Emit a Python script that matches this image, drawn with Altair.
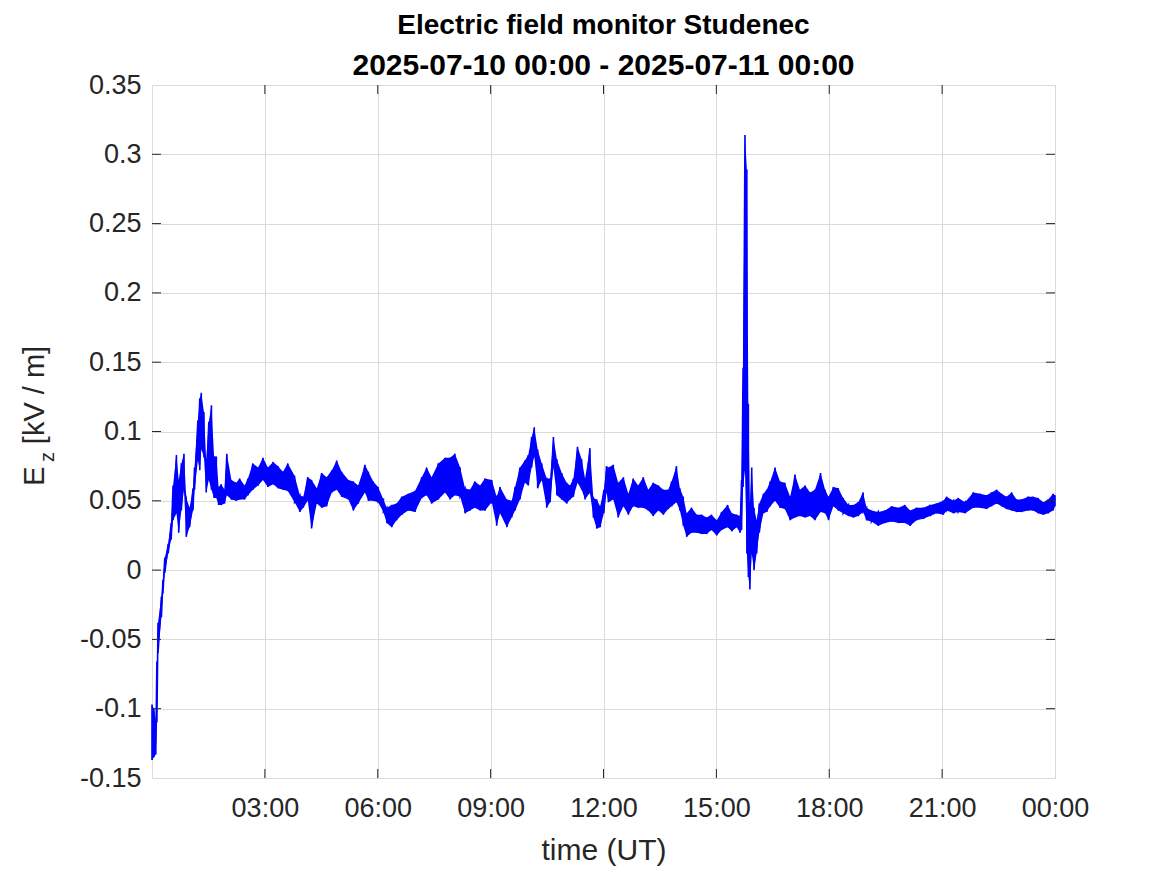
import altair as alt
import pandas as pd

# time in hours since 2025-07-10 00:00 UT, upper / lower envelope of Ez [kV/m]
hours = [0.00, 0.05, 0.10, 0.13, 0.16, 0.25, 0.29, 0.34, 0.43, 0.51, 0.56, 0.65, 0.71, 0.78, 0.85, 0.91,
         1.00, 1.09, 1.13, 1.22, 1.27, 1.31, 1.38, 1.44, 1.51, 1.58, 1.65, 1.71, 1.77, 1.84, 1.93, 1.99,
         2.11, 2.24, 2.33, 2.46, 2.55, 2.68, 2.82, 2.95, 3.08, 3.22, 3.35, 3.48, 3.61, 3.79, 3.93,
         4.02, 4.14, 4.24, 4.38, 4.51, 4.64, 4.78, 4.91, 5.04, 5.22, 5.35, 5.48, 5.66, 5.75, 5.88,
         6.01, 6.15, 6.24, 6.37, 6.50, 6.64, 6.81, 6.99, 7.17, 7.30, 7.43, 7.61, 7.79, 7.92,
         8.05, 8.19, 8.32, 8.45, 8.58, 8.72, 8.85, 9.03, 9.16, 9.25, 9.43, 9.56, 9.65, 9.78, 9.91,
         10.00, 10.09, 10.16, 10.25, 10.36, 10.49, 10.58, 10.67, 10.76, 10.89, 11.02, 11.11, 11.20,
         11.31, 11.42, 11.51, 11.64, 11.73, 11.82, 11.91, 12.01, 12.08, 12.13, 12.26, 12.39, 12.53,
         12.66, 12.79, 12.92, 13.06, 13.19, 13.32, 13.46, 13.59, 13.72, 13.81, 13.94, 14.03, 14.12,
         14.21, 14.34, 14.48, 14.61, 14.74, 14.87, 15.01, 15.14, 15.30, 15.41, 15.54, 15.63, 15.67,
         15.71, 15.76, 15.81, 15.85, 15.89, 15.94, 16.00, 16.07, 16.14, 16.25, 16.34, 16.43, 16.56,
         16.69, 16.82, 16.96, 17.09, 17.22, 17.36, 17.49, 17.62, 17.77, 17.89, 17.98, 18.11, 18.24,
         18.37, 18.51, 18.64, 18.77, 18.90, 18.99, 19.12, 19.30, 19.48, 19.66, 19.84, 20.01, 20.15,
         20.32, 20.50, 20.68, 20.85, 21.03, 21.12, 21.30, 21.43, 21.61, 21.83, 22.01, 22.18, 22.31,
         22.45, 22.58, 22.71, 22.85, 22.98, 23.11, 23.29, 23.42, 23.55, 23.69, 23.82, 23.95, 24.00]

ez_high = [-0.097, -0.100, -0.108, -0.066, -0.038, -0.019, -0.007, 0.009, 0.019, 0.034, 0.061, 0.083, 0.065, 0.077, 0.084, 0.052,
           0.045, 0.059, 0.074, 0.108, 0.124, 0.128, 0.114, 0.079, 0.107, 0.119, 0.082, 0.082, 0.060, 0.062, 0.058, 0.084,
           0.065, 0.063, 0.066, 0.061, 0.066, 0.077, 0.074, 0.081, 0.074, 0.078, 0.075, 0.071, 0.077, 0.068, 0.054,
           0.053, 0.067, 0.065, 0.059, 0.070, 0.067, 0.072, 0.079, 0.071, 0.065, 0.064, 0.061, 0.076, 0.071, 0.064,
           0.060, 0.051, 0.045, 0.047, 0.048, 0.053, 0.055, 0.057, 0.067, 0.074, 0.067, 0.077, 0.081, 0.081,
           0.084, 0.074, 0.059, 0.058, 0.064, 0.061, 0.066, 0.065, 0.053, 0.060, 0.051, 0.050, 0.060, 0.074, 0.079,
           0.083, 0.096, 0.103, 0.087, 0.077, 0.066, 0.066, 0.096, 0.080, 0.070, 0.063, 0.061, 0.066,
           0.089, 0.080, 0.066, 0.088, 0.052, 0.051, 0.046, 0.058, 0.075, 0.074, 0.076, 0.063, 0.067,
           0.055, 0.066, 0.061, 0.067, 0.058, 0.063, 0.061, 0.058, 0.058, 0.064, 0.075, 0.059, 0.053,
           0.041, 0.045, 0.040, 0.040, 0.038, 0.040, 0.036, 0.042, 0.047, 0.041, 0.040, 0.039, 0.065,
           0.146, 0.314, 0.289, 0.120, 0.048, 0.074, 0.045, 0.036, 0.048, 0.055, 0.058, 0.064, 0.074,
           0.064, 0.063, 0.053, 0.069, 0.058, 0.061, 0.056, 0.058, 0.070, 0.058, 0.053, 0.060, 0.059,
           0.052, 0.047, 0.047, 0.049, 0.056, 0.045, 0.043, 0.042, 0.043, 0.046, 0.045, 0.047, 0.043,
           0.045, 0.045, 0.047, 0.048, 0.050, 0.053, 0.050, 0.052, 0.049, 0.056, 0.055, 0.054, 0.056,
           0.058, 0.055, 0.053, 0.056, 0.051, 0.051, 0.053, 0.053, 0.052, 0.049, 0.051, 0.055, 0.054]

ez_low = [-0.137, -0.135, -0.133, -0.110, -0.060, -0.034, -0.017, -0.002, 0.012, 0.022, 0.036, 0.041, 0.027, 0.043, 0.058, 0.024,
          0.031, 0.043, 0.058, 0.079, 0.072, 0.087, 0.082, 0.056, 0.065, 0.058, 0.052, 0.052, 0.047, 0.047, 0.048, 0.054,
          0.051, 0.050, 0.051, 0.051, 0.054, 0.058, 0.061, 0.065, 0.060, 0.062, 0.059, 0.058, 0.057, 0.049, 0.042,
          0.045, 0.050, 0.030, 0.048, 0.045, 0.046, 0.056, 0.058, 0.053, 0.051, 0.043, 0.048, 0.056, 0.050, 0.050,
          0.049, 0.042, 0.034, 0.031, 0.036, 0.040, 0.043, 0.042, 0.052, 0.054, 0.048, 0.051, 0.056, 0.051,
          0.054, 0.053, 0.041, 0.043, 0.045, 0.043, 0.043, 0.049, 0.032, 0.041, 0.031, 0.038, 0.043, 0.051, 0.063,
          0.061, 0.074, 0.082, 0.059, 0.065, 0.045, 0.049, 0.074, 0.054, 0.051, 0.048, 0.051, 0.053,
          0.063, 0.058, 0.051, 0.056, 0.038, 0.030, 0.031, 0.041, 0.056, 0.049, 0.051, 0.038, 0.046,
          0.040, 0.046, 0.045, 0.045, 0.043, 0.039, 0.043, 0.040, 0.044, 0.046, 0.049, 0.043, 0.032,
          0.024, 0.027, 0.027, 0.026, 0.026, 0.029, 0.025, 0.029, 0.031, 0.028, 0.031, 0.027, 0.029,
          0.060, 0.072, 0.012, -0.005, -0.014, 0.012, 0.000, 0.012, 0.027, 0.041, 0.042, 0.046, 0.050,
          0.045, 0.044, 0.036, 0.038, 0.039, 0.038, 0.039, 0.036, 0.042, 0.041, 0.036, 0.046, 0.043,
          0.041, 0.039, 0.038, 0.039, 0.042, 0.036, 0.035, 0.032, 0.034, 0.035, 0.034, 0.034, 0.032,
          0.036, 0.037, 0.039, 0.041, 0.040, 0.043, 0.041, 0.042, 0.041, 0.045, 0.045, 0.044, 0.046,
          0.048, 0.046, 0.044, 0.043, 0.042, 0.042, 0.043, 0.043, 0.041, 0.040, 0.041, 0.043, 0.046]

x_ticks = [3, 6, 9, 12, 15, 18, 21, 24]
y_ticks = [-0.15, -0.1, -0.05, 0.0, 0.05, 0.1, 0.15, 0.2, 0.25, 0.3, 0.35]
title_lines = ["Electric field monitor Studenec", "2025-07-10 00:00 - 2025-07-11 00:00"]

W, H = 903, 693
FONT = "Liberation Sans"
AX = "#262626"
BLUE = "#0000FF"

band = pd.DataFrame({"t": hours, "hi": ez_high, "lo": ez_low})
zig_rows = []
for i, (t, h, l) in enumerate(zip(hours, ez_high, ez_low)):
    zig_rows.append({"t": t, "v": h, "o": 2 * i})
    zig_rows.append({"t": t, "v": l, "o": 2 * i + 1})
zig = pd.DataFrame(zig_rows)

xscale = alt.Scale(domain=[0, 24], nice=False, zero=False)
yscale = alt.Scale(domain=[-0.15, 0.35], nice=False, zero=False)

xaxis = alt.Axis(values=x_ticks, grid=True, ticks=False, domain=False,
                 labelExpr="(datum.value % 24 < 10 ? '0' : '') + (datum.value % 24) + ':00'",
                 labelFont=FONT, labelFontSize=27, labelColor=AX, labelPadding=17,
                 gridColor="#dadada", gridWidth=1,
                 title="time (UT)", titleFont=FONT, titleFontSize=30, titleFontWeight="normal",
                 titleColor=AX, titlePadding=14, labelFlush=False)
yaxis = alt.Axis(values=y_ticks, grid=True, ticks=False, domain=False,
                 labelExpr="replace(format(datum.value, '.2~f'), '\u2212', '-')",
                 labelFont=FONT, labelFontSize=27, labelColor=AX, labelPadding=11,
                 gridColor="#dadada", gridWidth=1, title=None, labelFlush=False)

area = alt.Chart(band).mark_area(color=BLUE, opacity=1).encode(
    x=alt.X("t:Q", scale=xscale, axis=xaxis),
    y=alt.Y("lo:Q", scale=yscale, axis=yaxis),
    y2="hi:Q",
)
line = alt.Chart(zig).mark_line(color=BLUE, strokeWidth=1.6).encode(
    x=alt.X("t:Q", scale=xscale),
    y=alt.Y("v:Q", scale=yscale),
    order="o:Q",
)

xt = pd.DataFrame({"t": x_ticks[:-1]})
yt = pd.DataFrame({"v": y_ticks[1:-1]})
tick_b = alt.Chart(xt).mark_rule(color=AX, strokeWidth=1).encode(
    x=alt.X("t:Q", scale=xscale), y=alt.value(H), y2=alt.value(H - 9))
tick_t = alt.Chart(xt).mark_rule(color=AX, strokeWidth=1).encode(
    x=alt.X("t:Q", scale=xscale), y=alt.value(0), y2=alt.value(9))
tick_l = alt.Chart(yt).mark_rule(color=AX, strokeWidth=1).encode(
    y=alt.Y("v:Q", scale=yscale), x=alt.value(0), x2=alt.value(9))
tick_r = alt.Chart(yt).mark_rule(color=AX, strokeWidth=1).encode(
    y=alt.Y("v:Q", scale=yscale), x=alt.value(W - 9), x2=alt.value(W))

one = pd.DataFrame({"k": [0]})
title1 = alt.Chart(one).mark_text(text=title_lines[0], font=FONT, fontSize=28, fontWeight="bold",
                                  color="black", align="center", baseline="alphabetic").encode(
    x=alt.value(W / 2), y=alt.value(-51))
title2 = alt.Chart(one).mark_text(text=title_lines[1], font=FONT, fontSize=30, fontWeight="bold",
                                  color="black", align="center", baseline="alphabetic").encode(
    x=alt.value(W / 2), y=alt.value(-10))
ytitle_E = alt.Chart(one).mark_text(text="E", angle=270, font=FONT, fontSize=29, color=AX,
                                    align="center", baseline="middle").encode(
    x=alt.value(-117), y=alt.value(391))
ytitle_z = alt.Chart(one).mark_text(text="z", angle=270, font=FONT, fontSize=20, color=AX,
                                    align="center", baseline="middle").encode(
    x=alt.value(-104), y=alt.value(372))
ytitle_u = alt.Chart(one).mark_text(text="[kV / m]", angle=270, font=FONT, fontSize=29, color=AX,
                                    align="center", baseline="middle").encode(
    x=alt.value(-117), y=alt.value(310))

chart = alt.layer(area, line, tick_b, tick_t, tick_l, tick_r,
                  title1, title2, ytitle_E, ytitle_z, ytitle_u).properties(
    width=W, height=H,
    autosize=alt.AutoSizeParams(type="none"),
    padding={"left": 144, "top": 77, "right": 100, "bottom": 88},
).configure_view(stroke=AX, strokeWidth=1).configure(background="white")

chart.save("out.html", embed_options={"renderer": "svg", "actions": False})
